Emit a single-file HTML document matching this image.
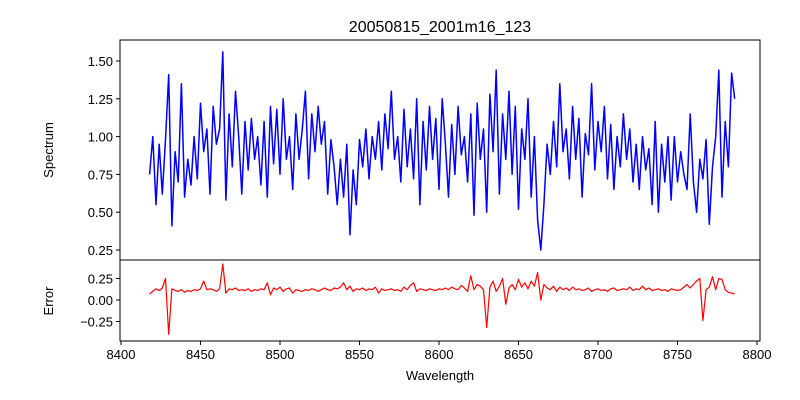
<!DOCTYPE html>
<html><head><meta charset="utf-8"><style>
body{margin:0;background:#fff}
svg{display:block;font-family:"Liberation Sans",sans-serif}
</style></head><body>
<svg id="chart" width="800" height="400">
<text x="440" y="32" text-anchor="middle" font-size="16">20050815_2001m16_123</text>
<text transform="translate(53,150) rotate(-90)" text-anchor="middle" font-size="13">Spectrum</text>
<text transform="translate(53,301) rotate(-90)" text-anchor="middle" font-size="13">Error</text>
<text x="440" y="380" text-anchor="middle" font-size="13">Wavelength</text>
<g id="g"></g>
</svg>
<script>
const wlStart = 8418, wlStep = 2;
const spectrum = [
0.75,1.0,0.55,0.95,0.62,0.98,1.41,0.41,0.9,0.7,
1.35,0.6,0.85,0.68,1.0,0.72,1.22,0.9,1.05,0.62,
1.2,0.95,1.05,1.56,0.58,1.15,0.8,1.3,1.0,0.62,
1.1,0.78,1.12,0.85,1.0,0.68,1.1,0.6,1.2,0.82,
1.18,0.75,1.25,0.85,1.0,0.65,1.15,0.85,1.05,1.3,
0.72,1.15,0.9,1.2,0.95,1.1,0.62,0.98,0.8,0.55,
0.85,0.6,0.95,0.35,0.78,0.55,0.98,0.8,1.05,0.72,
1.0,0.85,1.1,0.78,1.15,0.92,1.3,0.85,1.0,0.7,
1.18,0.8,1.05,0.72,1.25,0.55,1.1,0.78,1.2,0.85,
1.12,0.65,1.25,0.95,0.6,1.08,0.75,1.2,0.88,1.0,
0.7,1.15,0.48,1.22,0.85,1.05,0.5,1.28,0.9,1.44,
0.62,1.15,0.85,1.3,0.75,1.2,0.52,1.05,0.85,1.25,
0.6,1.0,0.45,0.25,0.55,0.95,0.75,1.1,0.8,1.35,
0.9,1.05,0.72,1.2,0.85,1.12,0.6,1.02,0.88,1.35,
0.78,1.1,0.9,1.2,0.72,1.08,0.65,1.0,0.8,1.15,
0.85,1.05,0.7,0.95,0.65,1.0,0.78,0.92,0.55,1.1,
0.5,0.95,0.7,1.0,0.58,1.0,0.7,0.9,0.75,0.65,
1.15,0.7,0.5,0.85,0.72,0.98,0.42,0.8,1.0,1.44,
0.6,1.1,0.8,1.42,1.25];
const errorVals = [
0.07,0.1,0.13,0.11,0.14,0.25,-0.4,0.13,0.11,0.1,
0.12,0.09,0.11,0.1,0.12,0.11,0.13,0.22,0.12,0.13,
0.12,0.1,0.13,0.42,0.08,0.13,0.12,0.14,0.11,0.12,
0.11,0.13,0.1,0.12,0.11,0.13,0.12,0.2,0.06,0.14,
0.12,0.15,0.1,0.13,0.14,0.08,0.12,0.11,0.1,0.12,
0.11,0.13,0.12,0.1,0.12,0.14,0.12,0.11,0.14,0.13,
0.15,0.2,0.12,0.16,0.1,0.13,0.12,0.14,0.11,0.13,
0.12,0.15,0.08,0.13,0.11,0.12,0.13,0.11,0.12,0.1,
0.15,0.12,0.17,0.2,0.1,0.13,0.12,0.11,0.13,0.12,
0.11,0.13,0.12,0.14,0.12,0.15,0.13,0.12,0.17,0.14,
0.1,0.28,0.12,0.18,0.16,0.12,-0.32,0.15,0.22,0.1,
0.16,0.25,-0.05,0.14,0.18,0.12,0.24,0.15,0.2,0.13,
0.22,0.16,0.32,0.0,0.18,0.14,0.12,0.16,0.1,0.15,
0.12,0.14,0.11,0.15,0.12,0.13,0.11,0.12,0.14,0.1,
0.12,0.13,0.11,0.12,0.1,0.13,0.14,0.11,0.12,0.13,
0.12,0.15,0.11,0.13,0.12,0.16,0.12,0.14,0.11,0.12,
0.13,0.11,0.12,0.1,0.13,0.12,0.11,0.12,0.15,0.18,
0.14,0.18,0.22,0.25,-0.24,0.12,0.15,0.27,0.12,0.25,
0.24,0.12,0.09,0.08,0.07];
const xTicks = [8400,8450,8500,8550,8600,8650,8700,8750,8800];
const specTicks = [0.25,0.50,0.75,1.00,1.25,1.50];
const errTicks = [-0.25,0.00,0.25];

const NS='http://www.w3.org/2000/svg', g=document.getElementById('g');
const L=120,R=760,T1=40,B1=260,T2=260,B2=341;
const xs=v=>121+(v-8400)*1.59;
const ys=v=>61+(1.5-v)*151.2;
const ye=v=>300-v*86;
function mk(t,a){const e=document.createElementNS(NS,t);for(const k in a)e.setAttribute(k,a[k]);g.appendChild(e);return e;}
let p1=spectrum.map((v,i)=>xs(wlStart+i*wlStep).toFixed(1)+','+ys(v).toFixed(1)).join(' ');
const sl=mk('polyline',{points:p1,fill:'none',stroke:'#0000ff','stroke-width':1.5,'stroke-linejoin':'round'});


let p2=errorVals.map((v,i)=>xs(wlStart+i*wlStep).toFixed(1)+','+ye(v).toFixed(1)).join(' ');
const el=mk('polyline',{points:p2,fill:'none',stroke:'#ff0000','stroke-width':1.2,'stroke-linejoin':'round'});


const f1=mk('rect',{x:L,y:T1,width:R-L,height:B1-T1,fill:'none',stroke:'#000','stroke-width':1});


const f2=mk('rect',{x:L,y:T2,width:R-L,height:B2-T2,fill:'none',stroke:'#000','stroke-width':1});


xTicks.forEach(v=>{const x=xs(v);
 mk('line',{x1:x,x2:x,y1:B2,y2:B2+4,stroke:'#000'});
 const t=mk('text',{x:x,y:B2+18,'text-anchor':'middle','font-size':13});t.textContent=v;
 
 });
specTicks.forEach(v=>{const y=ys(v);
 mk('line',{x1:L-4,x2:L,y1:y,y2:y,stroke:'#000'});
 const t=mk('text',{x:L-7,y:y+5,'text-anchor':'end','font-size':13});t.textContent=v.toFixed(2);
 
 });
errTicks.forEach(v=>{const y=ye(v);
 mk('line',{x1:L-4,x2:L,y1:y,y2:y,stroke:'#000'});
 const t=mk('text',{x:L-7,y:y+5,'text-anchor':'end','font-size':13});t.textContent=(v<0?'\u2212'+Math.abs(v).toFixed(2):v.toFixed(2));
 
 });
</script>
</body></html>
